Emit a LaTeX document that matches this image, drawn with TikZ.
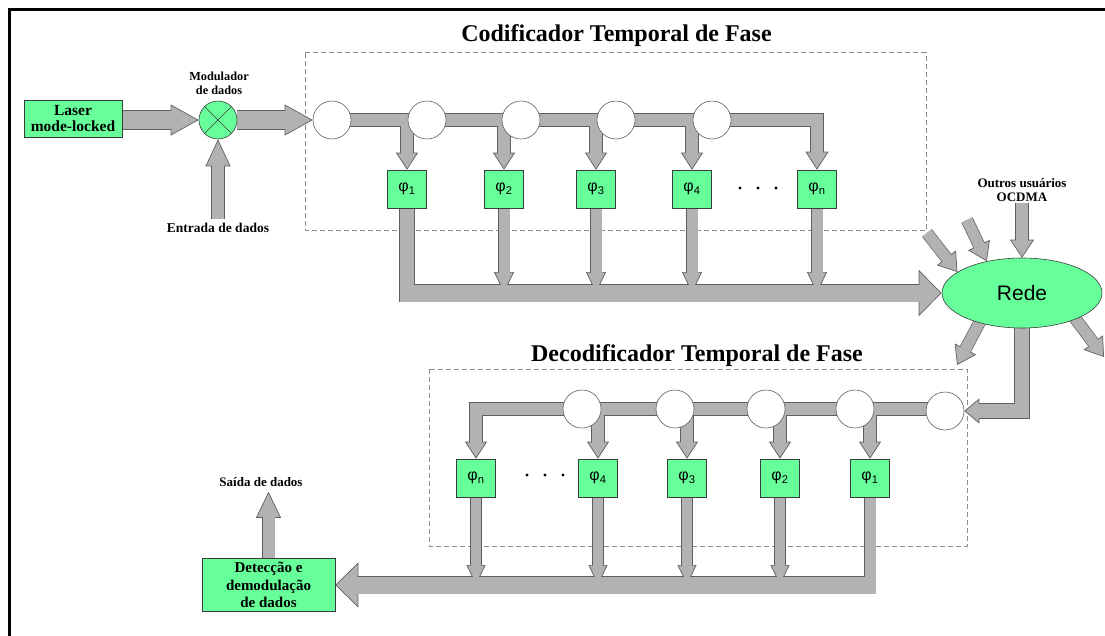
\documentclass[tikz,border=0pt]{standalone}
\usepackage{fontspec}
\setmainfont{Liberation Serif}
\setsansfont{Liberation Sans}
\usetikzlibrary{arrows.meta,shapes.geometric,calc}

\definecolor{boxgreen}{RGB}{102,255,153}
\definecolor{boxedge}{RGB}{60,60,60}
\definecolor{pipefill}{RGB}{178,178,178}
\definecolor{pipeedge}{RGB}{95,95,95}
\definecolor{framegray}{RGB}{140,140,140}

% drawing order: dashed stage frames, pipe outlines, arrow heads, pipe cores, nodes
\pgfdeclarelayer{frames}
\pgfdeclarelayer{pipeA}
\pgfdeclarelayer{pipeB}
\pgfdeclarelayer{pipeC}
\pgfsetlayers{frames,pipeA,pipeB,pipeC,main}

% block arrow: shaft width, head width, head length, path
\newcommand\fatarrow[4]{%
  \begin{pgfonlayer}{pipeA}
    \draw[draw=pipeedge, line width=#1pt+1.4pt, shorten >=#3pt-1pt] #4;
  \end{pgfonlayer}
  \begin{pgfonlayer}{pipeB}
    \draw[draw=pipefill, line width=0.1pt,
      -{Triangle[length=#3pt, width=#2pt, fill=pipefill, color=pipeedge, line width=0.7pt]}] #4;
  \end{pgfonlayer}
  \begin{pgfonlayer}{pipeC}
    \draw[draw=pipefill, line width=#1pt, shorten >=#3pt-1pt] #4;
  \end{pgfonlayer}%
}
% block pipe without a head: shaft width, path
\newcommand\fatpipe[2]{%
  \begin{pgfonlayer}{pipeA}
    \draw[draw=pipeedge, line width=#1pt+1.4pt] #2;
  \end{pgfonlayer}
  \begin{pgfonlayer}{pipeC}
    \draw[draw=pipefill, line width=#1pt] #2;
  \end{pgfonlayer}%
}

\begin{document}
\begin{tikzpicture}[x=1pt,y=-1pt,
  greenbox/.style={draw=boxedge, fill=boxgreen, line width=0.6pt, inner sep=0pt},
  phibox/.style={greenbox, minimum width=39pt, minimum height=38pt,
    font=\sffamily\fontsize{16}{16}\selectfont},
  tap/.style={circle, draw=pipeedge, fill=white, line width=0.6pt,
    minimum size=38pt, inner sep=0pt},
  lbl/.style={font=\bfseries\fontsize{13}{14.5}\selectfont, align=center, inner sep=1pt},
  title/.style={font=\bfseries\fontsize{24}{28}\selectfont, inner sep=0pt},
  stage/.style={draw=framegray, dash pattern=on 5pt off 3pt, line width=0.8pt}
]
\useasboundingbox (0,0) rectangle (1105,635);

% page frame
\draw[line width=3.5pt] (9.3,640) -- (9.3,9.3) -- (1110,9.3);

% ---------- source and modulator ----------
\node[greenbox, minimum width=98pt, minimum height=37pt, align=center,
  font=\bfseries\fontsize{15.5}{16.5}\selectfont] (laser) at (73,118.5) {Laser\\mode-locked};
\node[circle, draw=boxedge, fill=boxgreen, line width=0.6pt, minimum size=38pt,
  inner sep=0pt] (mod) at (218,120) {};
\draw[boxedge, line width=0.6pt] (mod.45) -- (mod.225) (mod.135) -- (mod.-45);
\node[lbl, font=\bfseries\fontsize{12.3}{14}\selectfont] (modlbl) at (219,83) {Modulador\\de dados};
\node[lbl, font=\bfseries\fontsize{13.5}{14}\selectfont] (entrada) at (218,228) {Entrada de dados};

% ---------- encoder ----------
\node[title, anchor=base] (enctitle) at (616.5,41.5) {Codificador Temporal de Fase};
\begin{pgfonlayer}{frames}
  \draw[stage] (305,52.5) rectangle (926,230);
  \draw[stage] (429,369) rectangle (967,546);
\end{pgfonlayer}

\foreach \i/\x in {1/332,2/427,3/521,4/616,5/712}
  {\node[tap] (c\i) at (\x,120) {};}
\foreach \k/\x in {1/407,2/504,3/596,4/692,n/817}
  {\node[phibox] (q\k) at (\x,189) {φ\textsubscript{\k}};}
\foreach \x in {740,758,776}
  {\fill (\x,188) circle (1.7);}

% ---------- network ----------
\node[ellipse, draw=boxedge, fill=boxgreen, line width=0.6pt, minimum width=160pt,
  minimum height=70pt, inner sep=0pt, font=\sffamily\fontsize{21}{21}\selectfont]
  (rede) at (1022,293) {Rede};
\node[lbl] (outros) at (1022,190) {Outros usuários\\OCDMA};

% ---------- decoder ----------
\node[title, anchor=base] (dectitle) at (697,361.7) {Decodificador Temporal de Fase};
\foreach \i/\x in {1/582,2/675,3/766,4/855}
  {\node[tap] (d\i) at (\x,409) {};}
\node[tap] (d5) at (945,411) {};
\foreach \k/\x in {n/476,4/598,3/687,2/780,1/870}
  {\node[phibox] (p\k) at (\x,478) {φ\textsubscript{\k}};}
\foreach \x in {527,545,563}
  {\fill (\x,475) circle (1.7);}

\node[greenbox, minimum width=133pt, minimum height=53pt, align=center,
  font=\bfseries\fontsize{15}{17.5}\selectfont] (det) at (268.5,585)
  {Detecção e\\demodulação\\de dados};
\node[lbl] (saida) at (261,482) {Saída de dados};

% ---------- free ends of the pipes ----------
\coordinate (ebus) at (401.1,293);
\coordinate (dbus) at (0,585);
\coordinate (in1) at (927,233);
\coordinate (in2) at (967,220);
\coordinate (out1) at (957,365);
\coordinate (out2) at (1104,357);
\coordinate (dstart) at ($(d5.center)+(-10,-2)$);

% ---------- pipes ----------
\fatarrow{18}{31}{28}{(laser.east |- mod.west) -- (mod.west)}
\fatarrow{18}{31}{28}{(mod.east) -- (c1.west)}
\fatarrow{12}{25}{27}{([yshift=3pt]entrada.north) -- (mod.south)}

% encoder taps
\fatarrow{12}{23}{18}{(c1.center) -| (qn.north)}
\foreach \k in {1,2,3,4}
  {\fatarrow{12}{22}{17}{(q\k.north |- c1.center) -- (q\k.north)}}
\foreach \k in {2,3,4,n}
  {\fatarrow{11}{20}{21}{(q\k.south) -- (q\k.south |- ebus)}}
\fatpipe{14}{(q1.south) -- ($(q1.south |- ebus)+(0,8.5)$)}
\fatarrow{17}{46}{23}{(ebus) -- (rede.west)}

% network traffic
\fatarrow{11}{24}{18}{(in1) -- (rede.162)}
\fatarrow{11}{24}{18}{(in2) -- (rede.138)}
\fatarrow{12}{24}{18}{(outros.south) -- (rede.north)}
\fatarrow{11}{24}{18}{($(rede.215)!-6pt!(out1)$) -- (out1)}
\fatarrow{11}{24}{18}{($(rede.-26)!-6pt!(out2)$) -- (out2)}
\fatarrow{14}{25}{15}{(rede.center) |- (d5.east)}

% decoder taps
\fatarrow{12}{22}{17}{(dstart) -| (pn.north)}
\foreach \k in {4,3,2,1}
  {\fatarrow{12}{22}{17}{(p\k.north |- dstart) -- (p\k.north)}}
\foreach \k in {n,4,3,2}
  {\fatarrow{10}{19}{20}{(p\k.south) -- (p\k.south |- dbus)}}
\fatpipe{11}{(p1.south) -- ($(p1.south |- dbus)+(0,8.5)$)}
\fatarrow{17}{45}{23}{($(p1.south |- dbus)+(5.4,0)$) -- (det.east)}
\fatarrow{12}{25}{26}{(det.north) -- ([yshift=-4pt]det.north |- saida.south)}
\end{tikzpicture}
\end{document}
